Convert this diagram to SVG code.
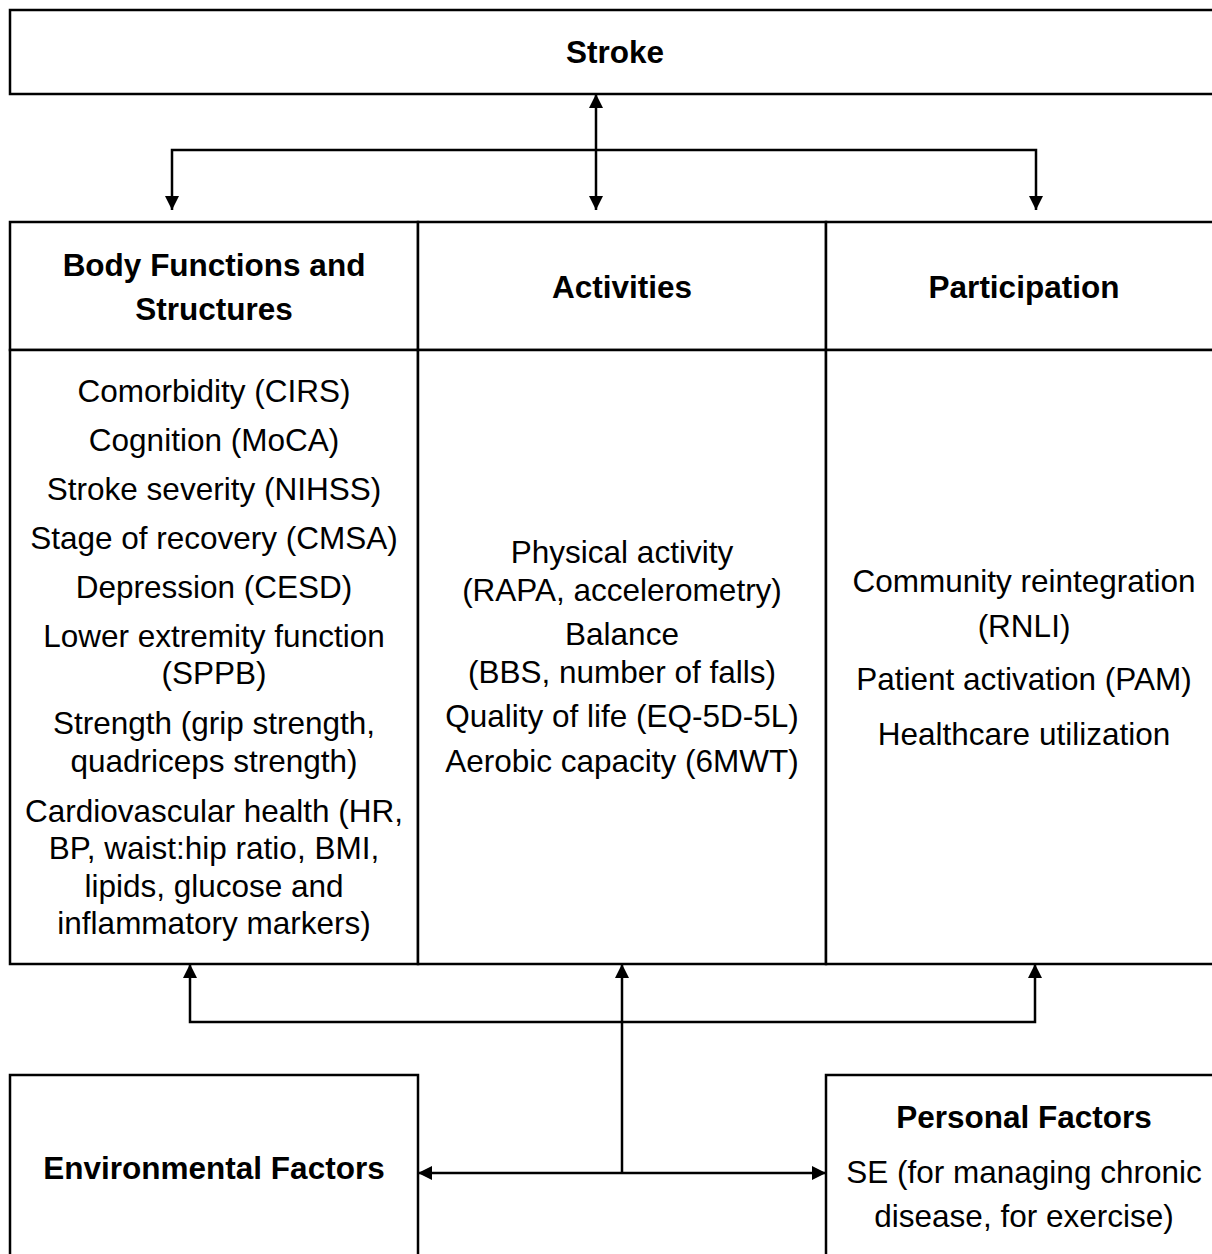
<svg xmlns="http://www.w3.org/2000/svg" width="1212" height="1254" viewBox="0 0 1212 1254">
<style>
.box{fill:#fff;stroke:#000;stroke-width:2.5}
.ln{fill:none;stroke:#000;stroke-width:2.5}
text{font-family:"Liberation Sans",Arial,sans-serif;font-size:31.5px;fill:#000;text-anchor:middle}
.b{font-weight:bold}
</style>
<defs>
<marker id="ah" viewBox="0 0 10 10" refX="10" refY="5" markerWidth="16" markerHeight="14" markerUnits="userSpaceOnUse" orient="auto-start-reverse">
<path d="M0,0 L10,5 L0,10 z" fill="#000"/>
</marker>
</defs>
<rect width="1212" height="1254" fill="#fff"/>
<g id="stroke">
<rect class="box" x="10" y="10" width="1220" height="84"/>
<text class="b" x="615" y="63">Stroke</text>
</g>
<g id="body-functions">
<rect class="box" x="10" y="222" width="408" height="128"/>
<rect class="box" x="10" y="350" width="408" height="614"/>
<text class="b" x="214" y="276">Body Functions and</text>
<text class="b" x="214" y="320">Structures</text>
<text x="214" y="402">Comorbidity (CIRS)</text>
<text x="214" y="451">Cognition (MoCA)</text>
<text x="214" y="500">Stroke severity (NIHSS)</text>
<text x="214" y="549">Stage of recovery (CMSA)</text>
<text x="214" y="598">Depression (CESD)</text>
<text x="214" y="647">Lower extremity function</text>
<text x="214" y="684">(SPPB)</text>
<text x="214" y="734">Strength (grip strength,</text>
<text x="214" y="772">quadriceps strength)</text>
<text x="214" y="822">Cardiovascular health (HR,</text>
<text x="214" y="859">BP, waist:hip ratio, BMI,</text>
<text x="214" y="897">lipids, glucose and</text>
<text x="214" y="934">inflammatory markers)</text>
</g>
<g id="activities">
<rect class="box" x="418" y="222" width="408" height="128"/>
<rect class="box" x="418" y="350" width="408" height="614"/>
<text class="b" x="622" y="298">Activities</text>
<text x="622" y="563">Physical activity</text>
<text x="622" y="601">(RAPA, accelerometry)</text>
<text x="622" y="645">Balance</text>
<text x="622" y="683">(BBS, number of falls)</text>
<text x="622" y="727">Quality of life (EQ-5D-5L)</text>
<text x="622" y="772">Aerobic capacity (6MWT)</text>
</g>
<g id="participation">
<rect class="box" x="826" y="222" width="400" height="128"/>
<rect class="box" x="826" y="350" width="400" height="614"/>
<text class="b" x="1024" y="298">Participation</text>
<text x="1024" y="592">Community reintegration</text>
<text x="1024" y="637">(RNLI)</text>
<text x="1024" y="690">Patient activation (PAM)</text>
<text x="1024" y="745">Healthcare utilization</text>
</g>
<g id="environmental">
<rect class="box" x="10" y="1075" width="408" height="200"/>
<text class="b" x="214" y="1179">Environmental Factors</text>
</g>
<g id="personal">
<rect class="box" x="826" y="1075" width="400" height="200"/>
<text class="b" x="1024" y="1128">Personal Factors</text>
<text x="1024" y="1183">SE (for managing chronic</text>
<text x="1024" y="1227">disease, for exercise)</text>
</g>
<g id="connectors">
<line class="ln" x1="596" y1="94" x2="596" y2="210" marker-start="url(#ah)" marker-end="url(#ah)"/>
<path class="ln" d="M172,210 V150 H1036 V210" marker-start="url(#ah)" marker-end="url(#ah)"/>
<path class="ln" d="M190,964 V1022 H1035 V964" marker-start="url(#ah)" marker-end="url(#ah)"/>
<line class="ln" x1="622" y1="1173" x2="622" y2="964" marker-end="url(#ah)"/>
<line class="ln" x1="418" y1="1173" x2="826" y2="1173" marker-start="url(#ah)" marker-end="url(#ah)"/>
</g>
</svg>
